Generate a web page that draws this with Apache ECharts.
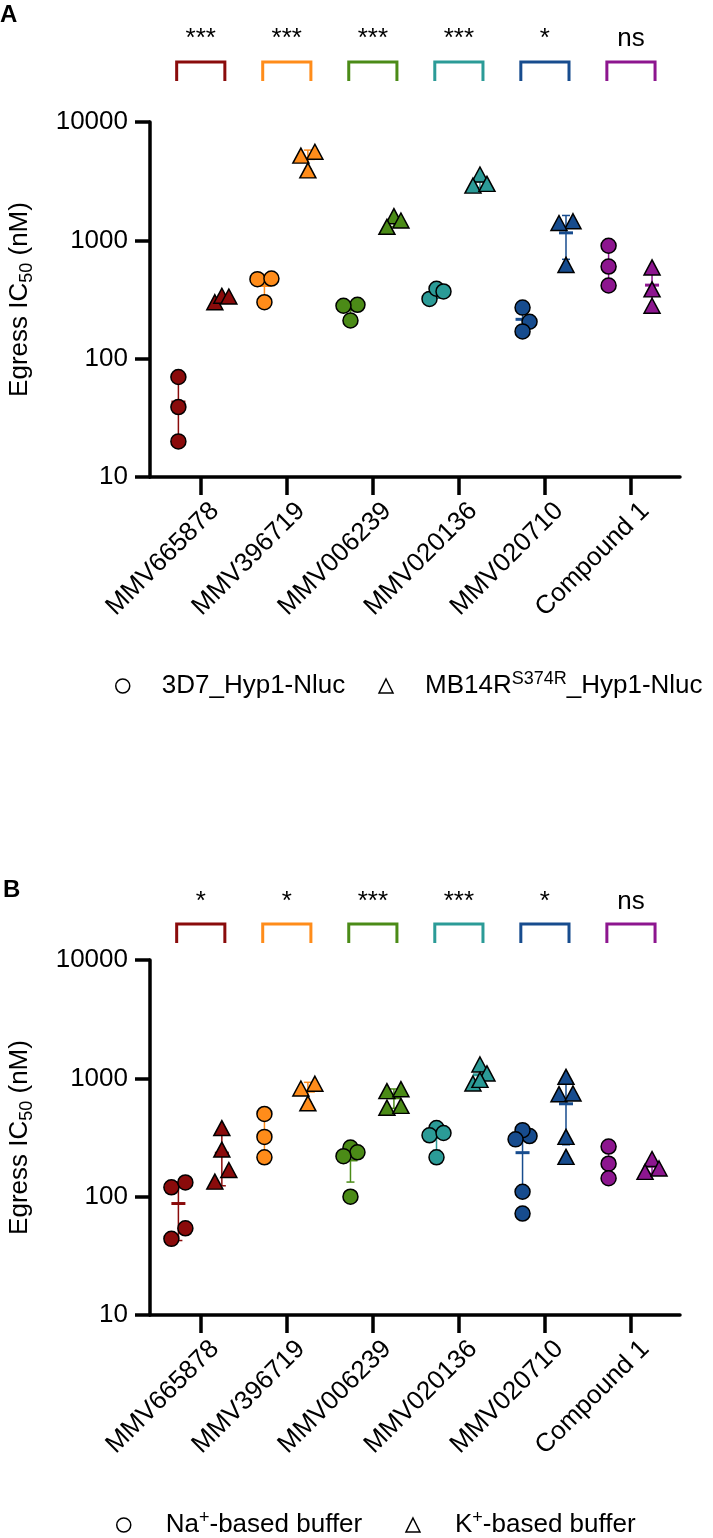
<!DOCTYPE html>
<html><head><meta charset="utf-8">
<script src="https://cdn.jsdelivr.net/npm/echarts@6/dist/echarts.min.js"></script>
<style>html,body{margin:0;padding:0;background:#fff}#c{width:713px;height:1538px}</style>
</head><body><div id="c"></div>
<script>
// ---------- data ----------
const categories = ['MMV665878', 'MMV396719', 'MMV006239', 'MMV020136', 'MMV020710', 'Compound 1'];
const yTickLabels = ['10', '100', '1000', '10000'];
const sigA = ['***', '***', '***', '***', '*', 'ns'];
const sigB = ['*', '*', '***', '***', '*', 'ns'];
// Panel A: 3D7_Hyp1-Nluc (circles) and MB14R^S374R_Hyp1-Nluc (triangles), nM
const a3D7 = [[70, 39, 20], [470, 475, 300], [285, 280, 210], [320, 390, 370], [270, 205, 170], [900, 600, 415]];
const aMB14R = [[300, 340, 335], [5600, 5200, 3900], [1600, 1300, 1470], [3600, 2900, 3000], [1450, 1400, 620], [590, 385, 280]];
// Panel B: Na+-based buffer (circles) and K+-based buffer (triangles), nM
const bNa = [[120, 132, 54, 44], [500, 320, 215], [260, 237, 220, 100], [380, 330, 345, 215], [325, 365, 305, 110, 72], [265, 190, 143]];
const bK = [[380, 250, 168, 134], [900, 820, 615], [780, 810, 565, 585], [1310, 1100, 905, 970], [1030, 735, 745, 320, 217], [208, 162, 173]];

// ---------- style / layout ----------
const groupColors = ['#8a0b0b', '#ff8c1a', '#4b8b17', '#2b9b97', '#174c8e', '#8d168f'];
const FONT = "'Liberation Sans', Arial, Helvetica, sans-serif";
const X_MIN = 0.41, X_MAX = 6.57;
const GRID_L = 150, GRID_W = 530, GRID_H = 355;
const PX_X = GRID_W / (X_MAX - X_MIN);
const PX_DEC = GRID_H / 3;
const CIRC_OFF = -0.26, TRI_OFF = 0.245;
const LABEL_SHIFT = 0.165;
const tickPos = categories.map((c, i) => i + 1);
const labelPos = categories.map((c, i) => i + 1 + LABEL_SHIFT);

function jitter(vals) {
  const n = vals.length;
  const ys = vals.map(v => -Math.log10(v) * PX_DEC);
  const order = vals.map((_, i) => i).sort((a, b) => ys[a] - ys[b]);
  const slot = new Array(n).fill(0);
  const TH = 14.5;
  const clusters = [];
  let cur = [order[0]];
  for (let k = 1; k < n; k++) {
    if (ys[order[k]] - ys[order[k - 1]] < TH) cur.push(order[k]);
    else { clusters.push(cur); cur = [order[k]]; }
  }
  clusters.push(cur);
  clusters.forEach(c => {
    if (c.length === 2) { slot[c[0]] = 1; slot[c[1]] = -1; }
    else if (c.length > 2) {
      const pref = [0, 1, -1, 2, -2];
      c.forEach((idx, j) => {
        const used = c.slice(0, j).filter(p => Math.abs(ys[p] - ys[idx]) < TH).map(p => slot[p]);
        slot[idx] = pref.find(s => used.indexOf(s) < 0);
      });
    }
  });
  return slot.map(s => s * 7 / PX_X);
}

function pointsData(groups, base) {
  const out = [];
  groups.forEach((vals, g) => {
    const j = jitter(vals);
    vals.forEach((v, k) => out.push({ value: [g + 1 + base + j[k], v], itemStyle: { color: groupColors[g] } }));
  });
  return out;
}

function stats(groups, base) {
  return groups.map((vals, g) => {
    const n = vals.length;
    const m = vals.reduce((a, b) => a + b, 0) / n;
    const sd = Math.sqrt(vals.reduce((a, b) => a + (b - m) * (b - m), 0) / (n - 1));
    return [g + 1 + base, m, Math.max(m - sd, 10.5), m + sd, g];
  });
}

function renderErr(params, api) {
  const x = api.value(0), m = api.value(1), lo = api.value(2), hi = api.value(3), g = api.value(4);
  const pm = api.coord([x, m]), pl = api.coord([x, lo]), ph = api.coord([x, hi]);
  const col = groupColors[g];
  const st = w => ({ stroke: col, lineWidth: w, lineCap: 'butt' });
  return { type: 'group', children: [
    { type: 'line', shape: { x1: pm[0], y1: ph[1], x2: pm[0], y2: pl[1] }, style: st(1.5) },
    { type: 'line', shape: { x1: pm[0] - 4, y1: ph[1], x2: pm[0] + 4, y2: ph[1] }, style: st(1.5) },
    { type: 'line', shape: { x1: pm[0] - 4, y1: pl[1], x2: pm[0] + 4, y2: pl[1] }, style: st(1.5) },
    { type: 'line', shape: { x1: pm[0] - 7, y1: pm[1], x2: pm[0] + 7, y2: pm[1] }, style: st(3) }
  ] };
}

function makeBracket(sig, brTop, txtBottom) {
  return function (params, api) {
    const i = api.value(0);
    const c = api.coord([i, 10000]);
    const l = api.coord([i - 0.28, 10000])[0], r = api.coord([i + 0.28, 10000])[0];
    const yT = c[1] + brTop, yB = yT + 19;
    const col = groupColors[params.dataIndex];
    return { type: 'group', children: [
      { type: 'polyline', shape: { points: [[l, yB], [l, yT], [r, yT], [r, yB]] },
        style: { stroke: col, lineWidth: 3, fill: null, lineJoin: 'miter', lineCap: 'butt' } },
      { type: 'text', style: { text: sig[params.dataIndex], x: c[0], y: c[1] + txtBottom, align: 'center',
        verticalAlign: 'bottom', fontSize: 26, fontFamily: FONT, fill: '#000' } }
    ] };
  };
}

function xAxisCfg(gi) {
  return { type: 'value', gridIndex: gi, min: X_MIN, max: X_MAX,
    axisLine: { show: true, onZero: false, lineStyle: { color: '#000', width: 3.5 } },
    axisTick: { show: true, length: 18, customValues: tickPos, lineStyle: { color: '#000', width: 3.5 } },
    axisLabel: { show: true, rotate: 45, margin: 30, fontSize: 26, fontFamily: FONT, color: '#000',
      customValues: labelPos, formatter: v => categories[Math.round(v - LABEL_SHIFT) - 1] || '' },
    splitLine: { show: false } };
}
function yAxisCfg(gi) {
  return { type: 'log', logBase: 10, min: 10, max: 10000, gridIndex: gi,
    name: '{m|Egress IC}{s|50}{m| (nM)}', nameLocation: 'middle', nameRotate: 90, nameGap: 114,
    nameTextStyle: { rich: {
      m: { fontSize: 26, fontFamily: FONT, color: '#000', lineHeight: 32 },
      s: { fontSize: 18, fontFamily: FONT, color: '#000', lineHeight: 18, verticalAlign: 'bottom' } } },
    axisLine: { show: true, lineStyle: { color: '#000', width: 3.5 } },
    axisTick: { show: true, length: 15, lineStyle: { color: '#000', width: 3.5 } },
    axisLabel: { margin: 22, fontSize: 26, fontFamily: FONT, color: '#000',
      formatter: v => yTickLabels[Math.round(Math.log10(v)) - 1] || '' },
    minorTick: { show: false }, splitLine: { show: false } };
}

const NAMES = ['3D7_Hyp1-Nluc', 'MB14R-S374R_Hyp1-Nluc', 'Na+-based buffer', 'K+-based buffer'];
const RICH_NAMES = {
  '3D7_Hyp1-Nluc': '{m|3D7_Hyp1-Nluc}',
  'MB14R-S374R_Hyp1-Nluc': '{m|MB14R}{sup|S374R}{m|_Hyp1-Nluc}',
  'Na+-based buffer': '{m|Na}{sup|+}{m|-based buffer}',
  'K+-based buffer': '{m|K}{sup|+}{m|-based buffer}'
};
const openIcon = { color: '#fff', borderColor: '#000', borderWidth: 1.5 };
function legendCfg(names, left, top, gap, pad) {
  return { left, top, padding: 0, orient: 'horizontal', itemGap: gap, itemWidth: 14, itemHeight: 14,
    selectedMode: false,
    data: [{ name: names[0], icon: 'circle', itemStyle: openIcon }, { name: names[1], icon: 'triangle', itemStyle: openIcon }],
    formatter: n => RICH_NAMES[n],
    textStyle: { padding: [0, 0, 0, pad], rich: {
      m: { fontSize: 26, fontFamily: FONT, color: '#000', lineHeight: 32 },
      sup: { fontSize: 18, fontFamily: FONT, color: '#000', lineHeight: 18, verticalAlign: 'top' } } } };
}

function scatter(name, gi, symbol, size, data) {
  return { type: 'scatter', name, xAxisIndex: gi, yAxisIndex: gi, symbol, symbolSize: size, z: 3,
    itemStyle: { borderColor: '#000', borderWidth: 1.5, opacity: 1 }, emphasis: { disabled: true }, data };
}
function errSeries(gi, data) {
  return { type: 'custom', xAxisIndex: gi, yAxisIndex: gi, renderItem: renderErr, z: 2, clip: false,
    encode: { x: 0, y: 1 }, data, silent: true };
}
function bracketSeries(gi, sig, brTop, txtBottom) {
  return { type: 'custom', xAxisIndex: gi, yAxisIndex: gi, renderItem: makeBracket(sig, brTop, txtBottom), z: 2,
    clip: false, encode: { x: 0, y: 1 }, data: categories.map((c, i) => [i + 1, 10000]), silent: true };
}

const chart = echarts.init(document.getElementById('c'), null, { renderer: 'canvas' });
chart.setOption({
  animation: false,
  backgroundColor: '#fff',
  title: [
    { text: 'A', left: 0, top: 3, padding: 0, textStyle: { fontSize: 24, fontWeight: 'bold', fontFamily: FONT, color: '#000' } },
    { text: 'B', left: 3, top: 878, padding: 0, textStyle: { fontSize: 24, fontWeight: 'bold', fontFamily: FONT, color: '#000' } }
  ],
  legend: [
    legendCfg([NAMES[0], NAMES[1]], 115, 670, 33, 27),
    legendCfg([NAMES[2], NAMES[3]], 116, 1509, 43, 30)
  ],
  grid: [
    { left: GRID_L, top: 122, width: GRID_W, height: GRID_H, containLabel: false, outerBoundsMode: 'none' },
    { left: GRID_L, top: 960, width: GRID_W, height: GRID_H, containLabel: false, outerBoundsMode: 'none' }
  ],
  xAxis: [xAxisCfg(0), xAxisCfg(1)],
  yAxis: [yAxisCfg(0), yAxisCfg(1)],
  series: [
    bracketSeries(0, sigA, -60, -70),
    bracketSeries(1, sigB, -36, -45),
    errSeries(0, stats(a3D7, CIRC_OFF)),
    errSeries(0, stats(aMB14R, TRI_OFF)),
    errSeries(1, stats(bNa, CIRC_OFF)),
    errSeries(1, stats(bK, TRI_OFF)),
    scatter(NAMES[0], 0, 'circle', 15, pointsData(a3D7, CIRC_OFF)),
    scatter(NAMES[1], 0, 'triangle', [16, 15], pointsData(aMB14R, TRI_OFF)),
    scatter(NAMES[2], 1, 'circle', 15, pointsData(bNa, CIRC_OFF)),
    scatter(NAMES[3], 1, 'triangle', [16, 15], pointsData(bK, TRI_OFF))
  ]
});
</script></body></html>
